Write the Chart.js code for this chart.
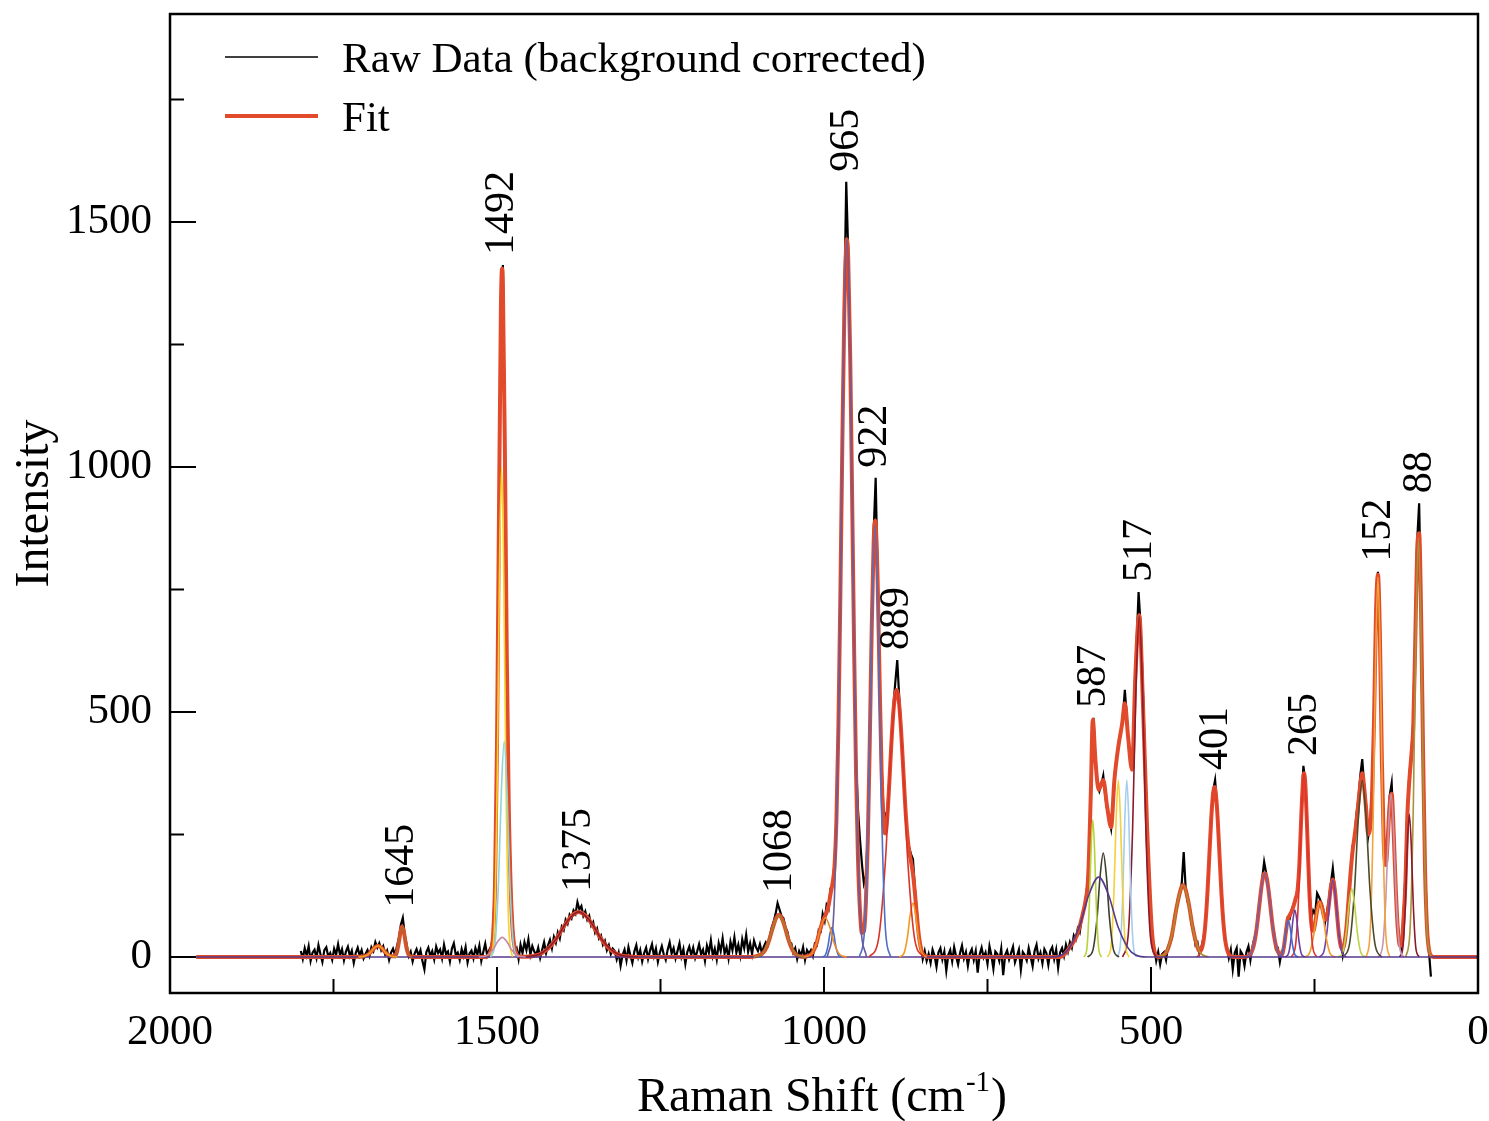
<!DOCTYPE html>
<html>
<head>
<meta charset="utf-8">
<script src="https://cdn.jsdelivr.net/npm/chart.js@4.4.1/dist/chart.umd.min.js"></script>
<style>
  html, body { margin: 0; padding: 0; background: #fff; }
  canvas { display: block; }
</style>
</head>
<body>
<canvas id="raman" width="1489" height="1121"></canvas>
<script>
const rawStart = 1800;
const rawStep = 3;
const rawIntensity = [
  // 1800
  12, -4, 18, 3, 22, -8, 9, 15, -2, 24, 6, -10, 14, 20, 1, 8, -6, 17, 5, 26,
  // 1740
  4, 16, -7, 11, 21, 2, 13, -12, 8, 19, 3, 14, -3, 6, 14, 2, 20, 12, 30, 19,
  // 1680
  28, 14, 22, 5, 13, -6, 9, 17, 4, 22, 38, 66, 80, 45, 24, 2, 11, -9, 7, 16,
  // 1620
  3, 14, -8, -25, 10, 19, 2, 12, -5, 21, 8, 15, -3, 25, 6, 11, -9, 17, 28, 4,
  // 1560
  9, -6, 16, 2, 20, -11, 7, 13, -3, 18, 5, 23, -8, 10, 27, 3, 14, 22, 41, 160,
  // 1500
  440, 905, 1330, 1412, 1045, 618, 300, 145, 62, 12, 18, -4, 25, 8, 30, 14, 36, 5, 22, 11,
  // 1440
  4, 19, -2, 14, 30, 8, 24, 35, 18, 41, 29, 50, 38, 62, 55, 76, 68, 86, 79, 95,
  // 1380
  88, 112, 97, 104, 84, 93, 76, 84, 64, 71, 50, 58, 38, 44, 25, 33, 14, 24, 6, 17,
  // 1320
  12, -5, 9, -18, 4, 15, -7, 20, 3, -12, 11, 24, 0, 14, -9, 8, 19, -4, 13, 26,
  // 1260
  2, 17, -10, 9, 22, 5, -6, 15, 30, 7, 18, -3, 12, 28, 1, 16, -14, 10, 21, 4,
  // 1200
  19, -2, 11, 26, 6, 15, -8, 23, 9, 34, 2, 17, -5, 28, 12, 38, 7, 20, -3, 31,
  // 1140
  14, 40, 9, 25, 3, 36, 18, 45, 11, 28, 6, 33, 20, 12, 26, 8, 21, 30, 24, 42,
  // 1080
  60, 72, 88, 110, 97, 84, 79, 60, 52, 31, 28, 9, 18, -4, 12, 3, 20, -6, 14, 7,
  // 1020
  14, 2, 27, 24, 55, 52, 88, 74, 106, 98, 140, 146, 190, 285, 470, 740, 1050, 1330, 1582, 1440,
  // 960
  1240, 948, 640, 400, 300, 240, 190, 150, 165, 250, 445, 680, 870, 978, 775, 570, 390, 300, 285, 300,
  // 900
  365, 442, 510, 560, 606, 530, 465, 395, 322, 250, 225, 210, 200, 140, 92, 38, 25, -4, 12, -8,
  // 840
  6, -12, 15, 3, -20, 9, 18, -5, 11, -28, 4, 14, -9, 20, 1, -15, 8, 23, -3, 10,
  // 780
  -18, 7, 16, -6, 12, -32, 5, 19, -1, 9, -14, 22, 3, -24, 11, 6, -8, 17, -37, 4,
  // 720
  13, -5, 8, 21, -11, 2, 15, -26, 10, 4, -7, 18, 0, -19, 12, 25, -3, 9, -13, 16,
  // 660
  8, -16, 12, 20, -4, 15, -22, 9, 18, 2, 25, 11, 30, 19, 44, 36, 58, 50, 78, 92,
  // 600
  118, 150, 232, 400, 488, 405, 350, 338, 352, 370, 330, 300, 282, 262, 310, 372, 410, 438, 460, 490,
  // 540
  545, 490, 430, 400, 392, 520, 640, 745, 680, 575, 440, 310, 180, 92, 40, 18, -8, 10, -15, 6,
  // 480
  10, -6, 21, 30, 38, 75, 88, 118, 125, 150, 214, 140, 112, 104, 66, 58, 25, 30, 8, 20,
  // 420
  38, 60, 130, 205, 290, 340, 361, 310, 232, 152, 90, 34, 22, -2, 15, -25, 8, 18, -40, 12,
  // 360
  5, -18, 10, 22, -6, 20, 38, 48, 95, 118, 160, 194, 172, 140, 118, 70, 52, 16, 18, -10,
  // 300
  12, 14, 55, 80, 78, 96, 108, 115, 140, 190, 300, 390, 358, 255, 145, 78, 95, 88, 130, 122,
  // 240
  112, 100, 70, 92, 118, 150, 181, 140, 100, 45, 30, 4, 35, 60, 125, 165, 225, 240, 290, 320,
  // 180
  370, 404, 350, 310, 245, 270, 340, 490, 710, 786, 670, 410, 225, 185, 250, 330, 355, 262, 150, 70,
  // 120
  30, 18, 80, 170, 300, 370, 415, 480, 650, 850, 926, 720, 430, 190, 66, 12, -40
];

// fitted curve [shift, intensity]
const fitPoints = [
  [1960, 0], [1722, 0], [1712, 0.5], [1702, 1.4], [1696, 6], [1692, 11.5], [1688, 18], [1682, 23],
  [1676, 18], [1672, 11.5], [1668, 6], [1662, 1.5], [1656, 2.4], [1653, 10.5], [1650, 31], [1647, 55],
  [1645, 62], [1642, 48], [1640, 31], [1638, 16], [1635, 4], [1630, 0.3], [1625, 0],
  [1518, 0], [1509, 15], [1506, 44], [1503, 151], [1500, 434], [1497, 900], [1494, 1325], [1493, 1391],
  [1492, 1405], [1491, 1370], [1488, 1039], [1485, 610], [1482, 307], [1479, 139], [1476, 53], [1473, 19],
  [1470, 6], [1466, 1], [1455, 0.6], [1440, 3.6], [1431, 8.3], [1422, 17], [1413, 30.5], [1404, 48.5],
  [1395, 68], [1386, 84], [1380, 90], [1375, 92], [1368, 88], [1362, 81], [1353, 63], [1344, 43.5],
  [1335, 26.5], [1326, 14.3], [1317, 6.7], [1308, 2.6], [1295, 0.6], [1280, 0],
  [1112, 0], [1098, 4], [1092, 10], [1089, 16.5], [1086, 26], [1083, 38], [1080, 52], [1077, 65],
  [1074, 77], [1071, 84], [1069, 86], [1065, 80], [1062, 70], [1059, 57], [1056, 42.5], [1053, 30],
  [1050, 19.5], [1047, 11.5], [1044, 6.5], [1041, 3.3], [1038, 1.5], [1030, 0.6], [1026, 1.5],
  [1020, 5], [1017, 10.5], [1014, 18.5], [1011, 30], [1008, 46], [1005, 60], [1002, 73], [999, 82],
  [996, 91], [993, 105], [990, 129], [987, 150], [984, 184], [981, 280], [978, 466], [975, 736],
  [972, 1045], [969, 1311], [966, 1455], [965, 1465], [963, 1425], [960, 1232], [957, 940], [954, 633],
  [951, 376], [948, 199], [945, 95], [942, 49], [939, 52], [936, 110], [933, 238], [930, 441],
  [927, 673], [924, 850], [922, 891], [921, 885], [918, 768], [915, 566], [912, 382], [909, 273],
  [906, 252], [903, 290], [900, 359], [897, 435], [894, 499], [891, 537], [889, 545], [888, 543],
  [885, 515], [882, 459], [879, 388], [876, 314], [873, 256], [870, 218], [867, 195], [864, 170],
  [861, 131], [858, 85], [855, 44.5], [852, 18.7], [849, 6.7], [846, 2], [840, 0],
  [640, 0], [634, 3], [624, 20], [613, 45], [604, 90], [600, 115], [596, 165], [592, 335],
  [589, 484], [585, 402], [580, 341], [573, 361], [567, 306], [561, 265], [556, 361], [550, 429],
  [544, 477], [540, 518], [535, 449], [529, 382], [524, 571], [518, 698], [512, 504], [506, 265],
  [499, 61], [494, 8], [488, 0], [480, 4.5], [477, 9], [474, 17], [471, 29], [468, 45], [465, 68],
  [462, 93], [459, 113], [456, 131], [453, 144], [451, 147], [447, 137], [444, 120], [441, 99],
  [438, 73.5], [435, 52], [432, 34], [429, 20], [426, 12], [423, 15], [420, 30], [417, 65],
  [414, 123], [411, 201], [408, 280], [405, 335], [403, 347], [402, 344], [399, 303], [396, 228],
  [393, 147.5], [390, 81.5], [387, 39], [384, 16], [381, 5.5], [378, 1.7], [372, 0],
  [360, 0], [354, 0.8], [351, 2.3], [348, 5.8], [345, 14], [342, 29], [339, 53], [336, 85.5],
  [333, 122], [330, 153], [327, 170], [326, 171], [324, 166], [321, 144], [318, 110], [315, 74],
  [312, 44], [309, 23], [306, 10.7], [303, 5], [300, 4.7], [297, 19], [294, 48.5], [291, 76.5],
  [288, 85], [285, 93], [282, 104], [279, 119], [276, 135], [273, 193], [270, 294], [267, 370],
  [266, 375], [264, 352], [261, 251], [258, 138], [255, 70], [252, 53], [249, 69], [246, 95],
  [243, 111], [242, 112], [240, 109], [237, 92], [234, 76], [231, 80], [228, 107], [225, 143],
  [222, 158], [219, 138], [216, 94], [213, 50], [210, 23], [207, 16], [204, 29], [201, 63],
  [198, 115], [195, 169], [192, 213], [189, 244], [186, 275], [183, 314], [180, 351], [177, 375],
  [174, 345], [171, 300], [168, 250], [165, 262], [162, 330], [159, 480], [156, 700], [153, 780],
  [150, 657], [147, 402], [144, 230], [141, 188], [138, 240], [135, 313], [132, 333], [129, 256],
  [126, 149], [123, 65], [120, 24], [117, 23], [114, 76], [111, 150], [108, 290], [105, 360],
  [102, 410], [99, 470], [96, 640], [93, 830], [90, 865], [87, 700], [84, 420], [81, 180],
  [78, 60], [75, 15], [72, 3], [68, 0], [0, 0]
];

// fitted single bands [shift, intensity]
const bandColors = [
  '#f0a01e', '#b8642a', '#c48aa8', '#8fd3d9', '#f5d327', '#8b1e2e', '#a57f2c', '#f08a24',
  '#3f6fd0', '#6b5b9a', '#4f6fc4', '#d8342a', '#f29a1f', '#553a8e', '#b6d43a', '#3e3f2e',
  '#f3d03c', '#a5cdef', '#8b1a2a', '#b08b2e', '#e0402a', '#7c5ea6', '#4169d0', '#6c3fa0',
  '#e2302a', '#f39a2a', '#7442a5', '#bcd444', '#4a4a2c', '#f3a43a', '#c497b5', '#8b1a2a',
  '#a8923a'
];
const bandPoints = [
  [[1712, 0], [1702, 1.4], [1694, 8.5], [1688, 18], [1682, 23], [1676, 18], [1670, 8.5], [1662, 1.4], [1652, 0]],
  [[1660, 0], [1655, 3.9], [1651, 23], [1648, 48], [1645, 62], [1642, 48], [1639, 23], [1635, 3.9], [1630, 0]],
  [[1528, 0], [1516, 2.5], [1506.4, 14.8], [1499.2, 31], [1492, 40], [1484.8, 31], [1477.6, 14.8], [1468, 2.5], [1456, 0]],
  [[1510, 0], [1503, 27.5], [1497.4, 163], [1493.2, 343], [1489, 440], [1484.8, 343], [1480.6, 163], [1475, 27.5], [1468, 0]],
  [[1509.5, 0], [1504, 62.5], [1499.6, 370], [1496.3, 780], [1493, 1000], [1489.7, 780], [1486.4, 370], [1482, 62.5], [1476.5, 0]],
  [[1465, 0], [1435, 5.8], [1411, 34], [1393, 72], [1375, 92], [1357, 72], [1339, 34], [1315, 5.8], [1285, 0]],
  [[1108, 0], [1095, 5.3], [1084.6, 31.5], [1076.8, 66], [1069, 85], [1061.2, 66], [1053.4, 31.5], [1043, 5.3], [1030, 0]],
  [[1031, 0], [1020, 5], [1011.2, 29.6], [1004.6, 62.4], [998, 80], [991.4, 62.4], [984.8, 29.6], [976, 5], [965, 0]],
  [[1003, 0], [998, 3.75], [994, 22], [991, 47], [988, 60], [985, 47], [982, 22], [978, 3.75], [973, 0]],
  [[995, 0], [985, 92], [977, 542], [971, 1143], [965, 1465], [959, 1143], [953, 542], [945, 92], [935, 0]],
  [[946, 0], [938, 55], [931.6, 326], [926.8, 686], [922, 880], [917.2, 686], [912.4, 326], [906, 55], [898, 0]],
  [[931, 0], [917, 34], [905.8, 202], [897.4, 425], [889, 545], [880.6, 425], [872.2, 202], [861, 34], [847, 0]],
  [[885, 0], [878, 6.9], [872.4, 40.7], [868.2, 86], [864, 110], [859.8, 86], [855.6, 40.7], [850, 6.9], [843, 0]],
  [[1960, 0], [655, 0], [630, 10], [610, 60], [595, 127], [580, 163], [565, 127], [550, 60], [530, 10], [505, 0], [0, 0]],
  [[602.5, 0], [598, 17.5], [594.4, 104], [591.7, 218], [589, 280], [586.3, 218], [583.6, 104], [580, 17.5], [575.5, 0]],
  [[597, 0], [589, 13], [582.6, 78], [577.8, 165], [573, 212], [568.2, 165], [563.4, 78], [557, 13], [549, 0]],
  [[566.5, 0], [561, 22.6], [556.6, 134], [553.3, 282], [550, 361], [546.7, 282], [543.4, 134], [539, 22.6], [533.5, 0]],
  [[552, 0], [547, 22.6], [543, 134], [540, 282], [537, 361], [534, 282], [531, 134], [527, 22.6], [522, 0]],
  [[543.5, 0], [535, 43], [528.2, 257], [523.1, 542], [518, 695], [512.9, 542], [507.8, 257], [501, 43], [492.5, 0]],
  [[490, 0], [477, 9.2], [466.6, 54], [458.8, 115], [451, 147], [443.2, 115], [435.4, 54], [425, 9.2], [412, 0]],
  [[430, 0], [421, 21.7], [413.8, 128], [408.4, 271], [403, 347], [397.6, 271], [392.2, 128], [385, 21.7], [376, 0]],
  [[356, 0], [346, 10.7], [338, 63], [332, 133], [326, 171], [320, 133], [314, 63], [306, 10.7], [296, 0]],
  [[305, 0], [300, 4.7], [296, 28], [293, 58.5], [290, 75], [287, 58.5], [284, 28], [280, 4.7], [275, 0]],
  [[295, 0], [290, 6], [286, 35.5], [283, 75], [280, 96], [277, 75], [274, 35.5], [270, 6], [265, 0]],
  [[285.5, 0], [279, 23.4], [273.8, 139], [269.9, 292], [266, 375], [262.1, 292], [258.2, 139], [253, 23.4], [246.5, 0]],
  [[266, 0], [258, 7], [251.6, 41.4], [246.8, 87], [242, 112], [237.2, 87], [232.4, 41.4], [226, 7], [218, 0]],
  [[243, 0], [236, 9.8], [230.4, 58], [226.2, 122], [222, 157], [217.8, 122], [213.6, 58], [208, 9.8], [201, 0]],
  [[214, 0], [207, 8.7], [201.4, 51.4], [197.2, 108], [193, 139], [188.8, 108], [184.6, 51.4], [179, 8.7], [172, 0]],
  [[207, 0], [197, 22.5], [189, 133], [183, 281], [177, 360], [171, 281], [165, 133], [157, 22.5], [147, 0]],
  [[171, 0], [165, 48], [160.2, 287], [156.6, 605], [153, 775], [149.4, 605], [145.8, 287], [141, 48], [135, 0]],
  [[152.5, 0], [146, 21], [140.8, 123], [136.9, 260], [133, 333], [129.1, 260], [125.2, 123], [120, 21], [113.5, 0]],
  [[120, 0], [115, 18], [111, 108], [108, 227], [105, 291], [102, 227], [99, 108], [95, 18], [90, 0]],
  [[110.5, 0], [104, 53], [98.8, 316], [94.9, 667], [91, 855], [87.1, 667], [83.2, 316], [78, 53], [71.5, 0]]
];

// labelled peaks (label = shift)
const peakLabels = [1645, 1492, 1375, 1068, 965, 922, 889, 587, 517, 401, 265, 152, 88];

const xMajorTicks = [2000, 1500, 1000, 500, 0];
const xMinorTicks = [1750, 1250, 750, 250];
const yMajorTicks = [0, 500, 1000, 1500];
const yMinorTicks = [250, 750, 1250, 1750];

const FONT = '"Liberation Serif", "Times New Roman", serif';
const FIT_COLOR = '#e14b2b';

const rawPoints = rawIntensity.map((v, i) => ({ x: rawStart - i * rawStep, y: v }));
const toXY = pts => pts.map(p => ({ x: p[0], y: p[1] }));

const datasets = [];
bandPoints.forEach((pts, i) => {
  datasets.push({
    label: 'band ' + i,
    data: toXY(pts),
    borderColor: bandColors[i],
    borderWidth: 1.6,
    cubicInterpolationMode: 'monotone',
    pointRadius: 0,
    order: 1
  });
});
datasets.push({
  label: 'Fit',
  data: toXY(fitPoints),
  borderColor: FIT_COLOR,
  borderWidth: 4,
  cubicInterpolationMode: 'monotone',
  pointRadius: 0,
  order: 2
});
datasets.push({
  label: 'Raw Data (background corrected)',
  data: rawPoints,
  borderColor: '#000',
  borderWidth: 2.2,
  pointRadius: 0,
  order: 3
});

// frame, inward ticks, legend, titles, peak labels
const decor = {
  id: 'decor',
  afterDraw(chart) {
    const { ctx, chartArea: a } = chart;
    const x = chart.scales.x, y = chart.scales.y;
    ctx.save();

    ctx.strokeStyle = '#000';
    ctx.lineWidth = 2;
    ctx.beginPath();
    xMajorTicks.forEach(v => { const p = x.getPixelForValue(v); ctx.moveTo(p, a.bottom); ctx.lineTo(p, a.bottom - 26); });
    xMinorTicks.forEach(v => { const p = x.getPixelForValue(v); ctx.moveTo(p, a.bottom); ctx.lineTo(p, a.bottom - 14); });
    yMajorTicks.forEach(v => { const p = y.getPixelForValue(v); ctx.moveTo(a.left, p); ctx.lineTo(a.left + 26, p); });
    yMinorTicks.forEach(v => { const p = y.getPixelForValue(v); ctx.moveTo(a.left, p); ctx.lineTo(a.left + 14, p); });
    ctx.stroke();

    ctx.lineWidth = 2.5;
    ctx.strokeRect(a.left, a.top, a.right - a.left, a.bottom - a.top);

    // legend
    const raw = chart.data.datasets[datasets.length - 1];
    const fit = chart.data.datasets[datasets.length - 2];
    ctx.lineWidth = 1.5;
    ctx.strokeStyle = raw.borderColor;
    ctx.beginPath(); ctx.moveTo(225, 57); ctx.lineTo(318, 57); ctx.stroke();
    ctx.lineWidth = 4;
    ctx.strokeStyle = fit.borderColor;
    ctx.beginPath(); ctx.moveTo(225, 116); ctx.lineTo(318, 116); ctx.stroke();
    ctx.fillStyle = '#000';
    ctx.font = '43px ' + FONT;
    ctx.textAlign = 'left';
    ctx.textBaseline = 'alphabetic';
    ctx.fillText(raw.label, 342, 72);
    ctx.fillText(fit.label, 342, 131);

    // peak labels, standing on the highest raw sample near the peak
    ctx.font = '42px ' + FONT;
    ctx.textBaseline = 'middle';
    peakLabels.forEach(p => {
      let top = 0;
      rawPoints.forEach(pt => { if (Math.abs(pt.x - p) <= 8) top = Math.max(top, pt.y); });
      ctx.save();
      ctx.translate(x.getPixelForValue(p), y.getPixelForValue(top) - 10);
      ctx.rotate(-Math.PI / 2);
      ctx.fillText(String(p), 0, 0);
      ctx.restore();
    });

    // axis titles
    ctx.font = '48px ' + FONT;
    ctx.textAlign = 'center';
    ctx.save();
    ctx.translate(35, (a.top + a.bottom) / 2);
    ctx.rotate(-Math.PI / 2);
    ctx.fillText('Intensity', 0, 0);
    ctx.restore();

    const t1 = 'Raman Shift (cm', t2 = '-1', t3 = ')';
    ctx.textAlign = 'left';
    ctx.textBaseline = 'alphabetic';
    ctx.font = '48px ' + FONT;
    const w1 = ctx.measureText(t1).width, w3 = ctx.measureText(t3).width;
    ctx.font = '29px ' + FONT;
    const w2 = ctx.measureText(t2).width;
    let sx = (a.left + a.right) / 2 - (w1 + w2 + w3) / 2 - 3;
    const base = 1111;
    ctx.font = '48px ' + FONT;
    ctx.fillText(t1, sx, base);
    ctx.font = '29px ' + FONT;
    ctx.fillText(t2, sx + w1 + 1, base - 20);
    ctx.font = '48px ' + FONT;
    ctx.fillText(t3, sx + w1 + w2 + 2, base);

    ctx.restore();
  }
};

new Chart(document.getElementById('raman'), {
  type: 'line',
  data: { datasets: datasets },
  options: {
    responsive: false,
    animation: false,
    devicePixelRatio: 1,
    events: [],
    layout: { padding: { top: 14, right: 11, left: 0, bottom: 0 } },
    plugins: { legend: { display: false }, tooltip: { enabled: false } },
    scales: {
      x: {
        type: 'linear',
        min: 0,
        max: 2000,
        reverse: true,
        grid: { display: false },
        border: { display: false },
        afterBuildTicks: s => { s.ticks = xMajorTicks.map(v => ({ value: v })); },
        afterFit: s => { s.height = 128; s.paddingLeft = 0; s.paddingRight = 0; },
        ticks: {
          autoSkip: false,
          maxRotation: 0,
          padding: 6,
          color: '#000',
          font: { family: FONT, size: 43 },
          callback: v => String(v)
        }
      },
      y: {
        type: 'linear',
        min: -73.5,
        max: 1924.5,
        grid: { display: false },
        border: { display: false },
        afterBuildTicks: s => { s.ticks = yMajorTicks.map(v => ({ value: v })); },
        afterFit: s => { s.width = 170; s.paddingTop = 0; s.paddingBottom = 0; },
        ticks: {
          padding: 10,
          color: '#000',
          font: { family: FONT, size: 43 },
          callback: v => String(v)
        }
      }
    }
  },
  plugins: [decor]
});
</script>
</body>
</html>
